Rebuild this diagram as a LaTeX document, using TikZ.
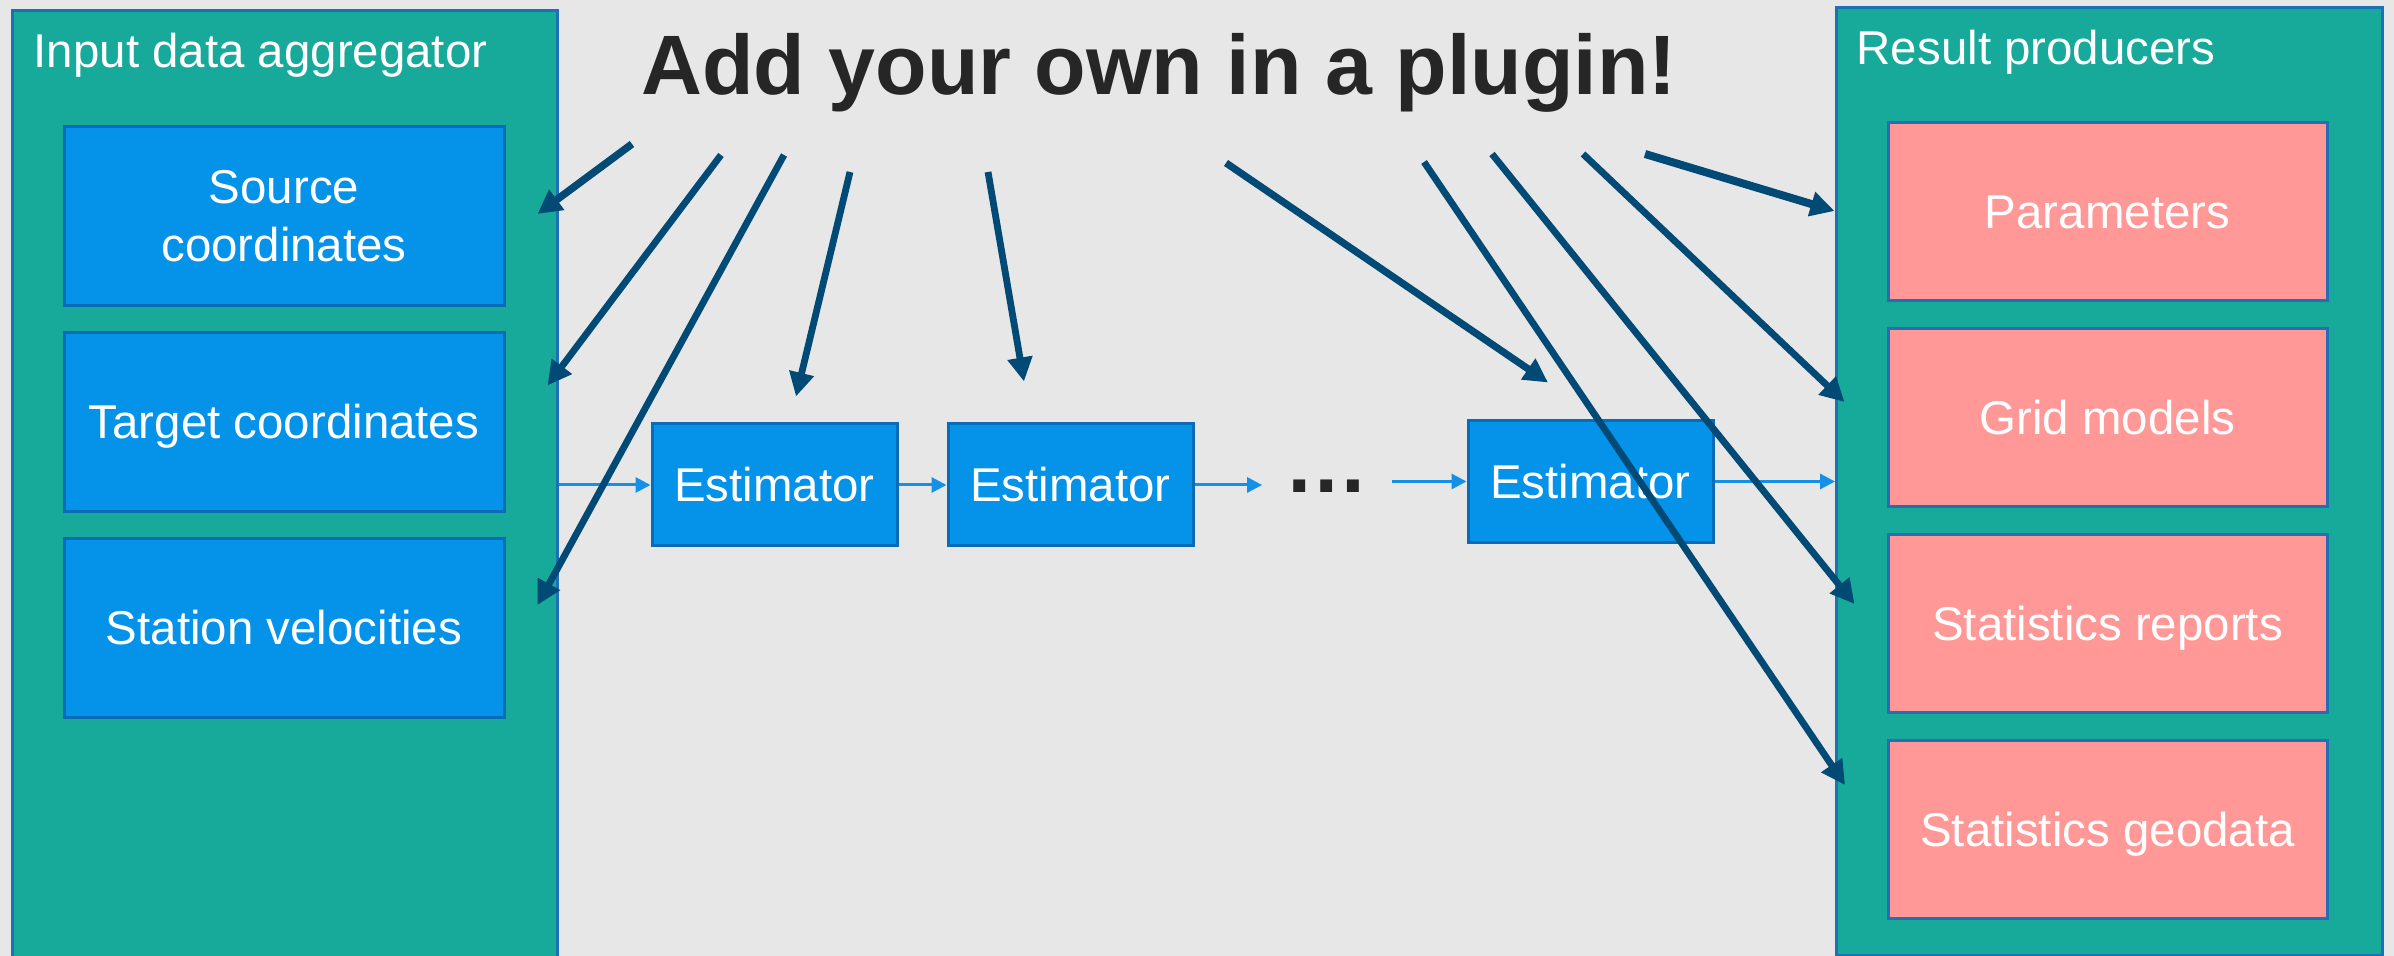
\documentclass[tikz,border=0pt]{standalone}
\usepackage{fontspec}
\setmainfont{Liberation Sans}
\usetikzlibrary{arrows.meta}
\definecolor{backdrop}{RGB}{231,231,231}
\definecolor{panelfill}{RGB}{23,169,153}
\definecolor{panelline}{RGB}{30,112,182}
\definecolor{infill}{RGB}{5,146,233}
\definecolor{inline}{RGB}{10,108,182}
\definecolor{outfill}{RGB}{255,152,150}
\definecolor{outline}{RGB}{38,110,180}
\definecolor{plugblue}{RGB}{0,74,117}
\definecolor{flowblue}{RGB}{20,145,230}
\definecolor{titlegray}{RGB}{38,38,38}
\newcommand{\boxfont}{\fontsize{13.5pt}{16.5pt}\selectfont}
\newcommand{\plugfont}{\bfseries\fontsize{24pt}{29pt}\selectfont}
\tikzstyle{panel} = [rectangle, draw=panelline, fill=panelfill, line width=0.03cm, inner sep=0pt]
\tikzstyle{paneltitle} = [anchor=base west, inner sep=0pt, text=white, font=\boxfont]
\tikzstyle{inbox} = [rectangle, minimum width=4.4cm, minimum height=1.79cm, text centered, align=center, draw=inline, fill=infill, text=white, line width=0.03cm, font=\boxfont]
\tikzstyle{outbox} = [rectangle, minimum width=4.39cm, minimum height=1.78cm, text centered, text height=0.34cm, text depth=0pt, draw=outline, fill=outfill, text=white, line width=0.03cm, font=\boxfont]
\tikzstyle{estimator} = [rectangle, minimum width=2.45cm, minimum height=1.22cm, text centered, text height=0.34cm, text depth=0pt, draw=inline, fill=infill, text=white, line width=0.03cm, font=\boxfont]
\tikzstyle{flow} = [->, >={Triangle[length=0.15cm, width=0.15cm]}, draw=flowblue, line width=0.03cm]
\tikzstyle{plug} = [->, >={Triangle[length=0.24cm, width=0.24cm]}, draw=plugblue, line width=0.068cm]
\begin{document}
\begin{tikzpicture}[node distance=2.06cm]
	\useasboundingbox (0,0) rectangle (23.94,9.56);
	\fill [backdrop] (0,0) rectangle (23.94,9.56);

	% the two side panels
	\node (inpanel) [panel, minimum width=5.45cm, minimum height=9.55cm, anchor=north west] at (0.11,9.47) {};
	\node (intitle) [paneltitle] at ([xshift=0.22cm, yshift=-0.59cm]inpanel.north west) {Input data aggregator};
	\node (outpanel) [panel, minimum width=5.46cm, minimum height=9.48cm, anchor=north west] at (18.35,9.50) {};
	\node (outtitle) [paneltitle] at ([xshift=0.21cm, yshift=-0.59cm]outpanel.north west) {Result producers};

	\node (plugin) [anchor=base, font=\plugfont, text=titlegray, inner sep=0pt] at (11.59,8.61) {Add your own in a plugin!};

	% inputs
	\node (src) [inbox] at (2.84,7.40) {Source\\coordinates};
	\node (tgt) [inbox, text height=0.34cm, text depth=0pt, below of=src] {Target coordinates};
	\node (vel) [inbox, text height=0.34cm, text depth=0pt, below of=tgt] {Station velocities};

	% outputs
	\node (par) [outbox] at (21.075,7.44) {Parameters};
	\node (grid) [outbox, below of=par] {Grid models};
	\node (rep) [outbox, below of=grid] {Statistics reports};
	\node (geo) [outbox, below of=rep] {Statistics geodata};

	% estimator chain
	\node (est1) [estimator] at (7.745,4.71) {Estimator};
	\node (est2) [estimator, node distance=2.96cm, right of=est1] {Estimator};
	\node (dots) [node distance=2.565cm, right of=est2, yshift=-0.015cm, font=\plugfont, text=titlegray, inner xsep=0.22cm, inner ysep=0pt] {…};
	\node (est3) [estimator, node distance=5.2cm, right of=est2, yshift=0.035cm] {Estimator};

		\draw [flow] (inpanel.east |- est1.west) -- (est1.west);
		\draw [flow] (est1) -- (est2);
		\draw [flow] (est2) -- (est2 -| dots.west);
		\draw [flow] (dots.east |- est3) -- (est3);
		\draw [flow] (est3) -- (est3 -| outpanel.west);

	% plugin arrows
	\coordinate (p1) at (6.32,8.12);
	\coordinate (p2) at (7.21,8.01);
	\coordinate (p3) at (7.84,8.01);
	\coordinate (p4) at (8.50,7.84);
	\coordinate (p5) at (9.88,7.84);
	\coordinate (p6) at (12.26,7.93);
	\coordinate (p7) at (14.24,7.94);
	\coordinate (p8) at (14.92,8.02);
	\coordinate (p9) at (15.83,8.02);
	\coordinate (p10) at (16.45,8.02);

		\draw [plug, line width=0.075cm] (p1) -- ([xshift=0.32cm, yshift=0.02cm]src.east);
		\draw [plug] (p2) -- ([xshift=0.42cm, yshift=-0.545cm]tgt.north east);
		\draw [plug] (p3) -- ([xshift=0.32cm, yshift=0.23cm]vel.east);
		\draw [plug] (p4) -- ([xshift=0.215cm, yshift=0.26cm]est1.north);
		\draw [plug] (p5) -- ([xshift=-0.465cm, yshift=0.41cm]est2.north);
		\draw [plug, line width=0.072cm] (p6) -- ([xshift=-0.425cm, yshift=0.365cm]est3.north);
		\draw [plug] (p7) -- ([xshift=-0.415cm, yshift=0.45cm]geo.west);
		\draw [plug] (p8) -- ([xshift=-0.32cm, yshift=0.20cm]rep.west);
		\draw [plug] (p9) -- ([xshift=-0.42cm, yshift=0.16cm]grid.west);
		\draw [plug, line width=0.08cm] (p10) -- ([xshift=-0.52cm, yshift=0.01cm]par.west);

\end{tikzpicture}
\end{document}
